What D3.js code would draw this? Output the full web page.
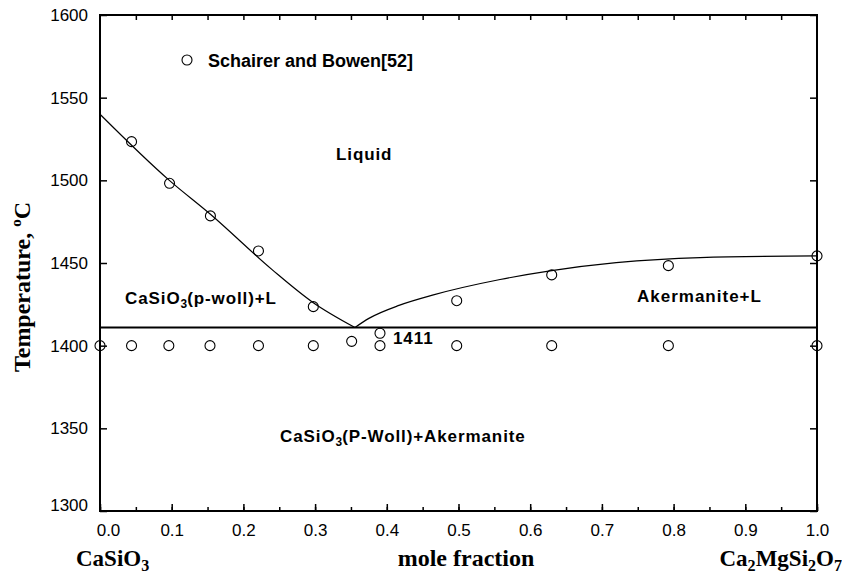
<!DOCTYPE html>
<html><head><meta charset="utf-8">
<script src="https://cdn.jsdelivr.net/npm/d3@7"></script>
<style>
body{margin:0;background:#fff;}
text{fill:#000;}
</style></head>
<body><svg id="c" width="842" height="574"></svg>
<script>
// ---- data ----
const liquidusLeft = [[0,1540],[0.0967,1500],[0.154,1479.5],[0.24,1446],[0.2975,1426],[0.3556,1411]];
const liquidusRight = [[0.3556,1411],[0.375,1416.5],[0.418,1424.5],[0.465,1430.7],[0.558,1440],[0.63,1445.4],[0.72,1450.2],[0.837,1453.3],[1.0,1454.3]];
const eutecticT = 1411;
const expX = [0,0.044,0.096,0.1534,0.221,0.2975,0.351,0.3905,0.3905,0.4975,0.4975,0.63,0.63,0.7927,0.7927,1.0,1.0,0.044,0.097,0.154,0.221,0.2975];
const expT = [1400,1400,1400,1400,1400,1400,1402.6,1400,1407.5,1400,1427.2,1400,1442.8,1400,1448.4,1400,1454.3,1523.4,1498.2,1478.5,1457.3,1423.6];
const xTicks = [0,0.1,0.2,0.3,0.4,0.5,0.6,0.7,0.8,0.9,1.0];
const yTicks = [1300,1350,1400,1450,1500,1550,1600];

const svg = d3.select('#c');
const L=100,R=817,T=15,B=511;
const x = d3.scaleLinear().domain([0,1]).range([L,R]);
const y = d3.scaleLinear().domain([1300,1600]).range([B,T]);
const sans = "'Liberation Sans', Arial, sans-serif";
const serif = "'Liberation Serif', 'Times New Roman', serif";

// axes
const minorX = d3.range(0,1.0001,0.05);
svg.append('g').attr('transform',`translate(0,${B})`)
  .call(d3.axisBottom(x).tickValues(minorX).tickSize(-4).tickFormat(''))
  .call(g=>{g.select('.domain').remove(); g.selectAll('line').attr('stroke-width',1.5);});
svg.append('g').attr('transform',`translate(0,${B})`)
  .call(d3.axisBottom(x).tickValues(xTicks).tickSize(-7).tickPadding(13).tickFormat(d3.format('.1f')))
  .call(g=>{g.select('.domain').remove(); g.selectAll('line').attr('stroke-width',1.5);
    g.selectAll('text').attr('font-family',sans).attr('font-size',17)
      .attr('dx',(d,i)=>i===0?8:0);});
svg.append('g').attr('transform',`translate(0,${T})`)
  .call(d3.axisTop(x).tickValues(minorX.filter(v=>v>0&&v<1)).tickSize(-5).tickFormat(''))
  .call(g=>{g.select('.domain').remove(); g.selectAll('line').attr('stroke-width',1.5);});
svg.append('g').attr('transform',`translate(${L},0)`)
  .call(d3.axisLeft(y).tickValues(yTicks).tickSize(-7).tickPadding(12).tickFormat(d3.format('d')))
  .call(g=>{g.select('.domain').remove(); g.selectAll('line').attr('stroke-width',1.5);
    g.selectAll('text').attr('font-family',sans).attr('font-size',17)
      .attr('y',(d,i)=>i===0?-6:0);});
svg.append('g').attr('transform',`translate(${R},0)`)
  .call(d3.axisRight(y).tickValues(yTicks).tickSize(-7).tickFormat(''))
  .call(g=>{g.select('.domain').remove(); g.selectAll('line').attr('stroke-width',1.5);});
svg.append('rect').attr('x',L).attr('y',T).attr('width',R-L).attr('height',B-T)
  .attr('fill','none').attr('stroke','#000').attr('stroke-width',2);

// lines
const line = d3.line().x(d=>x(d[0])).y(d=>y(d[1])).curve(d3.curveMonotoneX);
svg.append('path').datum(liquidusLeft).attr('d',line).attr('fill','none').attr('stroke','#000').attr('stroke-width',1.2);
svg.append('path').datum(liquidusRight).attr('d',line).attr('fill','none').attr('stroke','#000').attr('stroke-width',1.2);
svg.append('line').attr('x1',x(0)).attr('x2',x(1)).attr('y1',y(eutecticT)).attr('y2',y(eutecticT))
  .attr('stroke','#000').attr('stroke-width',2);

// points
svg.append('g').selectAll('circle').data(expX.map((v,i)=>[v,expT[i]])).join('circle')
  .attr('cx',d=>x(d[0])).attr('cy',d=>y(d[1])).attr('r',5)
  .attr('fill','none').attr('stroke','#000').attr('stroke-width',1.1);

// legend
svg.append('circle').attr('cx',187).attr('cy',60).attr('r',5).attr('fill','none').attr('stroke','#000').attr('stroke-width',1.1);
svg.append('text').attr('x',208).attr('y',67).attr('font-family',sans).attr('font-weight','bold').attr('font-size',18).text('Schairer and Bowen[52]');

// region labels
function lab(xp,yp,parts,size,family,anchor,ls){
  const t=svg.append('text').attr('x',xp).attr('y',yp).attr('font-family',family||sans)
    .attr('font-weight','bold').attr('font-size',size).attr('text-anchor',anchor||'start');
  let pending=0;
  parts.forEach(p=>{
    if(typeof p==='string'){ t.append('tspan').attr('dy',pending).attr('letter-spacing',ls||0).text(p); pending=0; }
    else { const d=p.dy||4; t.append('tspan').attr('dy',d-pending).attr('font-size',size*0.7).text(p.sub); pending=-d; }
  });
  return t;
}
lab(336,160,['Liquid'],17,sans,'start',0.9);
lab(125,304,['CaSiO',{sub:'3'},'(p-woll)+L'],17,sans,'start',0.9);
lab(637,302,['Akermanite+L'],17,sans,'start',1);
lab(280,442,['CaSiO',{sub:'3'},'(P-Woll)+Akermanite'],17,sans,'start',0.9);
lab(393,344,['1411'],17,sans,'start',0.9);

// axis titles
lab(76,566,['CaSiO',{sub:'3',dy:5}],23,serif);
svg.append('text').attr('x',466).attr('y',566).attr('text-anchor','middle').attr('font-family',serif)
  .attr('font-weight','bold').attr('font-size',24).text('mole fraction');
lab(842,566,['Ca',{sub:'2',dy:5},'MgSi',{sub:'2',dy:5},'O',{sub:'7',dy:5}],23,serif,'end');
const yt = svg.append('text').attr('transform','translate(30,287) rotate(-90)').attr('text-anchor','middle')
  .attr('font-family',serif).attr('font-weight','bold').attr('font-size',24);
yt.append('tspan').text('Temperature, ');
yt.append('tspan').attr('dy',-9).attr('font-size',15).text('o');
yt.append('tspan').attr('dy',9).text('C');
</script></body></html>
